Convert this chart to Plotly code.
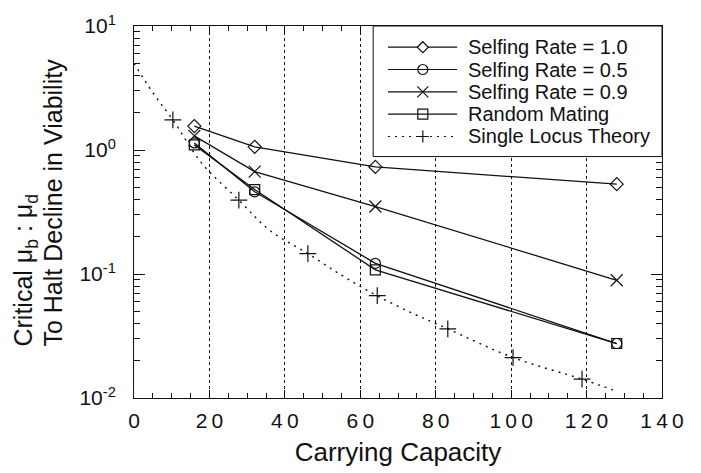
import plotly.graph_objects as go

# Carrying capacities simulated
capacity = [16, 32, 64, 128]

# Critical mu_b : mu_d for each mating system
selfing_10 = [1.56, 1.06, 0.73, 0.53]
selfing_05 = [1.14, 0.46, 0.122, 0.0275]
selfing_09 = [1.30, 0.67, 0.35, 0.089]
random_mating = [1.10, 0.48, 0.108, 0.0275]

# Single-locus theory: curve and its marked points
theory_x = [0, 5, 10.3, 18, 27.8, 36, 46.1, 55, 64, 74, 83.2, 100.5, 118.8, 127]
theory_y = [5.0, 2.9, 1.75, 0.78, 0.394, 0.225, 0.146, 0.098, 0.068, 0.048, 0.0361, 0.0212, 0.0142, 0.0116]
theory_mark_x = [10.3, 27.8, 46.1, 64.5, 83.2, 100.5, 118.8]
theory_mark_y = [1.75, 0.394, 0.146, 0.067, 0.0361, 0.0212, 0.0142]

# Legend entries
legend_labels = ["Selfing Rate = 1.0", "Selfing Rate = 0.5", "Selfing Rate = 0.9",
                 "Random Mating", "Single Locus Theory"]
legend_keys = ["diamond", "circle", "x", "square", "cross"]
legend_dash = ["solid", "solid", "solid", "solid", "2px,5px"]

x_tickvals = [0, 20, 40, 60, 80, 100, 120, 140]
y_tickvals = [0.01, 0.1, 1, 10]
y_ticktext = ["10<sup>-2</sup>", "10<sup>-1</sup>", "10<sup>0</sup>", "10<sup>1</sup>"]

FONT = "Liberation Sans, Arial, Helvetica, sans-serif"
BLACK = "#111111"
# x tick labels are set with slightly open digit spacing
x_ticktext = ["\u2009".join(str(v)) for v in x_tickvals]

fig = go.Figure()

series = [
    (selfing_10, "diamond-open", 10),
    (selfing_05, "circle-open", 10),
    (selfing_09, "x-thin-open", 12),
    (random_mating, "square-open", 10),
]
for ys, sym, sz in series:
    fig.add_trace(go.Scatter(
        x=capacity, y=ys, mode="lines+markers",
        line=dict(color=BLACK, width=1.3),
        marker=dict(symbol=sym, size=sz, color=BLACK, line=dict(width=1.2, color=BLACK)),
        showlegend=False,
    ))

fig.add_trace(go.Scatter(
    x=theory_x, y=theory_y, mode="lines", line_shape="spline",
    line=dict(color=BLACK, width=1.4, dash="2px,5px"), showlegend=False,
))
fig.add_trace(go.Scatter(
    x=theory_mark_x, y=theory_mark_y, mode="markers",
    marker=dict(symbol="cross-thin-open", size=12, color=BLACK, line=dict(width=1.2, color=BLACK)),
    showlegend=False,
))

# Legend box in the upper-right corner of the plot area
fig.add_shape(type="rect", xref="x domain", yref="y domain", x0=0.453, x1=1.0, y0=0.649, y1=1.0,
              fillcolor="white", line=dict(color=BLACK, width=1), layer="above")

row_y = [0.943, 0.883, 0.823, 0.763, 0.703]
line_x0, line_x1, mark_x, text_x = 0.481, 0.612, 0.547, 0.629
key_paths = {
    "diamond": "M-5.5,0L0,5.5L5.5,0L0,-5.5Z",
    "x": "M-5.5,-5.5L5.5,5.5M-5.5,5.5L5.5,-5.5",
    "cross": "M-6,0L6,0M0,-6L0,6",
}
for i, lab in enumerate(legend_labels):
    fig.add_shape(type="line", xref="x domain", yref="y domain",
                  x0=line_x0, x1=line_x1, y0=row_y[i], y1=row_y[i],
                  line=dict(color=BLACK, width=1.2, dash=legend_dash[i]), layer="above")
    key = legend_keys[i]
    common = dict(xref="x domain", yref="y domain", xsizemode="pixel", ysizemode="pixel",
                  xanchor=mark_x, yanchor=row_y[i], line=dict(color=BLACK, width=1.2), layer="above")
    if key == "circle":
        fig.add_shape(type="circle", x0=-5, x1=5, y0=-5, y1=5, **common)
    elif key == "square":
        fig.add_shape(type="rect", x0=-5, x1=5, y0=-5, y1=5, **common)
    elif key == "diamond":
        fig.add_shape(type="path", path=key_paths[key], fillcolor="white", **common)
    else:
        fig.add_shape(type="path", path=key_paths[key], **common)
    fig.add_annotation(xref="x domain", yref="y domain", x=text_x, y=row_y[i], text=lab,
                       xanchor="left", yanchor="middle", showarrow=False,
                       font=dict(family=FONT, size=20, color=BLACK))

# Two-line rotated y title, left aligned
fig.add_annotation(xref="paper", yref="paper", x=-0.2064, y=0.133, textangle=-90,
                   text="Critical \u03bc<sub>b</sub> : \u03bc<sub>d</sub>",
                   xanchor="center", yanchor="bottom", showarrow=False,
                   font=dict(family=FONT, size=25, color=BLACK))
fig.add_annotation(xref="paper", yref="paper", x=-0.1534, y=0.133, textangle=-90,
                   text="To Halt Decline in Viability",
                   xanchor="center", yanchor="bottom", showarrow=False,
                   font=dict(family=FONT, size=25, color=BLACK))

fig.update_layout(
    width=701, height=473,
    margin=dict(l=134, r=39, t=22, b=75),
    paper_bgcolor="white", plot_bgcolor="white",
    font=dict(family=FONT, color=BLACK),
    showlegend=False,
    xaxis=dict(
        range=[0, 140], tickmode="array", tickvals=x_tickvals, ticktext=x_ticktext,
        ticks="inside", ticklen=8, tickwidth=1, tickcolor=BLACK,
        minor=dict(dtick=5, tick0=0, ticks="inside", ticklen=5, tickcolor=BLACK, showgrid=False),
        showline=True, linecolor=BLACK, linewidth=1, mirror="ticks",
        showgrid=True, gridcolor=BLACK, griddash="dot", gridwidth=1,
        zeroline=False, ticklabelstandoff=4,
        tickfont=dict(family=FONT, size=21, color=BLACK),
        title=dict(text="Carrying Capacity", font=dict(family=FONT, size=26, color=BLACK), standoff=11),
    ),
    yaxis=dict(
        type="log", range=[-2, 1],
        tickvals=y_tickvals, ticktext=y_ticktext,
        ticks="inside", ticklen=11, tickwidth=1, tickcolor=BLACK,
        minor=dict(dtick="D1", ticks="inside", ticklen=6, tickcolor=BLACK, showgrid=False),
        showline=True, linecolor=BLACK, linewidth=1, mirror="ticks",
        showgrid=False, zeroline=False, ticklabelstandoff=13,
        tickfont=dict(family=FONT, size=21, color=BLACK),
    ),
)

fig.write_html("out.html")
